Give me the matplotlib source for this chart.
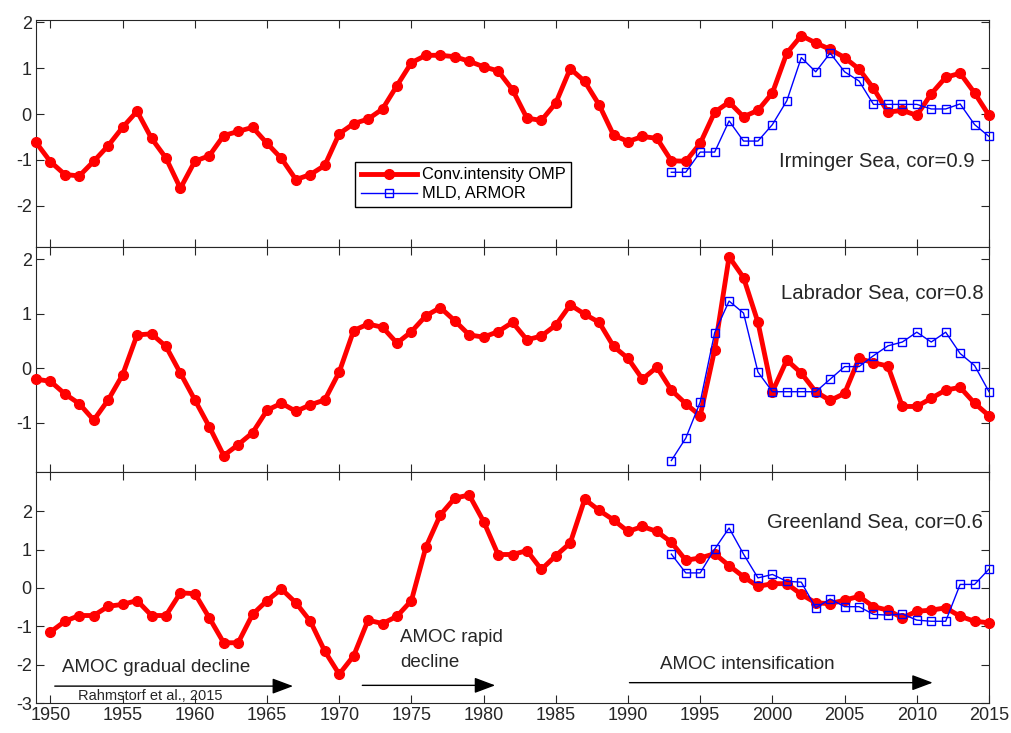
import numpy as np
import matplotlib
matplotlib.use('Agg')
import matplotlib.pyplot as plt

plt.rcParams['font.family'] = ['Liberation Sans', 'DejaVu Sans']
plt.rcParams['axes.unicode_minus'] = False

# years
years_red = np.arange(1949, 2016)
years_blue = np.arange(1993, 2016)
years_green_red = np.arange(1950, 2016)

# Irminger Sea
irminger_omp = [-0.62, -1.04, -1.32, -1.35, -1.03, -0.69, -0.29, 0.06, -0.53, -0.96,
                -1.62, -1.03, -0.91, -0.47, -0.38, -0.29, -0.64, -0.97, -1.43, -1.32,
                -1.12, -0.43, -0.21, -0.11, 0.11, 0.62, 1.12, 1.28, 1.28, 1.25,
                1.15, 1.03, 0.94, 0.53, -0.09, -0.14, 0.24, 0.99, 0.71, 0.20,
                -0.46, -0.60, -0.49, -0.53, -1.02, -1.03, -0.64, 0.04, 0.26, -0.06,
                0.08, 0.46, 1.33, 1.71, 1.55, 1.41, 1.23, 0.98, 0.56, 0.04,
                0.08, -0.03, 0.44, 0.80, 0.89, 0.46, -0.03]
irminger_mld = [-1.27, -1.27, -0.83, -0.83, -0.15, -0.59, -0.59, -0.23, 0.29, 1.23,
                0.92, 1.33, 0.92, 0.72, 0.21, 0.21, 0.21, 0.21, 0.11, 0.11,
                0.22, -0.23, -0.49]

# Labrador Sea
labrador_omp = [-0.20, -0.24, -0.47, -0.65, -0.95, -0.58, -0.12, 0.61, 0.63, 0.40,
                -0.09, -0.58, -1.07, -1.60, -1.40, -1.18, -0.77, -0.64, -0.79, -0.67,
                -0.58, -0.07, 0.69, 0.81, 0.75, 0.46, 0.67, 0.96, 1.11, 0.87,
                0.61, 0.57, 0.67, 0.84, 0.52, 0.59, 0.79, 1.16, 0.99, 0.84,
                0.40, 0.18, -0.20, 0.02, -0.40, -0.65, -0.87, 0.34, 2.04, 1.66,
                0.84, -0.43, 0.15, -0.09, -0.43, -0.59, -0.46, 0.18, 0.10, 0.04,
                -0.70, -0.70, -0.55, -0.40, -0.35, -0.64, -0.87]
labrador_mld = [-1.69, -1.28, -0.62, 0.65, 1.23, 1.01, -0.07, -0.43, -0.43, -0.43,
                -0.43, -0.20, 0.03, 0.03, 0.23, 0.41, 0.48, 0.66, 0.48, 0.66,
                0.27, 0.05, -0.43]

# Greenland Sea (starts 1950)
greenland_omp = [-1.15, -0.87, -0.72, -0.72, -0.48, -0.43, -0.33, -0.72, -0.72, -0.13,
                 -0.15, -0.78, -1.43, -1.43, -0.69, -0.33, -0.03, -0.39, -0.87, -1.65,
                 -2.25, -1.77, -0.84, -0.93, -0.74, -0.33, 1.06, 1.90, 2.34, 2.42,
                 1.73, 0.87, 0.87, 0.97, 0.48, 0.84, 1.17, 2.31, 2.02, 1.77,
                 1.47, 1.60, 1.47, 1.19, 0.72, 0.78, 0.89, 0.58, 0.29, 0.04,
                 0.11, 0.11, -0.17, -0.39, -0.41, -0.32, -0.22, -0.49, -0.58, -0.78,
                 -0.61, -0.58, -0.52, -0.74, -0.87, -0.91]
greenland_mld = [0.88, 0.39, 0.39, 1.01, 1.56, 0.88, 0.26, 0.35, 0.17, 0.15,
                 -0.52, -0.29, -0.49, -0.49, -0.69, -0.71, -0.68, -0.84, -0.87, -0.87,
                 0.09, 0.09, 0.49]

panel_labels = ['Irminger Sea, cor=0.9', 'Labrador Sea, cor=0.8', 'Greenland Sea, cor=0.6']
xtick_years = [1950, 1955, 1960, 1965, 1970, 1975, 1980, 1985, 1990, 1995, 2000, 2005, 2010, 2015]

gray = '#262626'
fig = plt.figure(figsize=(10.12, 7.33), dpi=100)
left, width = 36 / 1012, (989 - 36) / 1012
tops = [20, 247, 472]
bots = [247, 472, 703]
axes = []
for t, b in zip(tops, bots):
    ax = fig.add_axes([left, 1 - b / 733, width, (b - t) / 733])
    axes.append(ax)

datasets = [
    (years_red, irminger_omp, irminger_mld, (-2.9, 2.05), [-2, -1, 0, 1, 2], (2014.0, -1.03)),
    (years_red, labrador_omp, labrador_mld, (-1.9, 2.22), [-1, 0, 1, 2], (2014.6, 1.37)),
    (years_green_red, greenland_omp, greenland_mld, (-3.0, 3.02), [-3, -2, -1, 0, 1, 2], (2014.6, 1.73)),
]

for i, (ax, (yr, omp, mld, ylim, yt, lab)) in enumerate(zip(axes, datasets)):
    ax.plot(yr, omp, '-o', color='red', lw=3.5, ms=7, mfc='red', mec='red',
            label='Conv.intensity OMP', clip_on=False, zorder=3)
    ax.plot(years_blue, mld, '-s', color='blue', lw=1, ms=6, mfc='none', mec='blue',
            mew=1, label='MLD, ARMOR', clip_on=False, zorder=4)
    ax.set_xlim(1949, 2015)
    ax.set_ylim(*ylim)
    ax.set_yticks(yt)
    ax.set_xticks(xtick_years)
    ax.tick_params(direction='in', top=True, right=True, length=6, width=0.8,
                   colors=gray, labelsize=13, pad=3)
    for s in ax.spines.values():
        s.set_color(gray)
        s.set_linewidth(0.8)
    if i < 2:
        ax.tick_params(labelbottom=False)
    ax.text(lab[0], lab[1], panel_labels[i], ha='right', va='center',
            fontsize=14.6, color=gray)

axes[0].legend(loc='upper left', bbox_to_anchor=(0.335, 0.376), borderaxespad=0,
               fancybox=False, edgecolor='k', framealpha=1, fontsize=11.8,
               numpoints=1, handlelength=3.4, borderpad=0.35, labelspacing=0.25,
               handletextpad=0.3)

ax3 = axes[2]
arrow_props = dict(arrowstyle='-|>,head_length=0.8,head_width=0.3', color='k', lw=1,
                   shrinkA=0, shrinkB=0, mutation_scale=16)
ax3.annotate('', xy=(1966.8, -2.56), xytext=(1950.3, -2.56), arrowprops=arrow_props)
ax3.annotate('', xy=(1980.8, -2.54), xytext=(1971.6, -2.54), arrowprops=arrow_props)
ax3.annotate('', xy=(2011.1, -2.47), xytext=(1990.1, -2.47), arrowprops=arrow_props)
ax3.text(1950.8, -2.07, 'AMOC gradual decline', fontsize=13.5, color=gray, va='center')
ax3.text(1951.9, -2.82, 'Rahmstorf et al., 2015', fontsize=10.5, color=gray, va='center')
ax3.text(1974.2, -1.29, 'AMOC rapid', fontsize=13.5, color=gray, va='center')
ax3.text(1974.2, -1.94, 'decline', fontsize=13.5, color=gray, va='center')
ax3.text(1992.2, -1.99, 'AMOC intensification', fontsize=13.5, color=gray, va='center')

fig.savefig('out.png', dpi=100)
